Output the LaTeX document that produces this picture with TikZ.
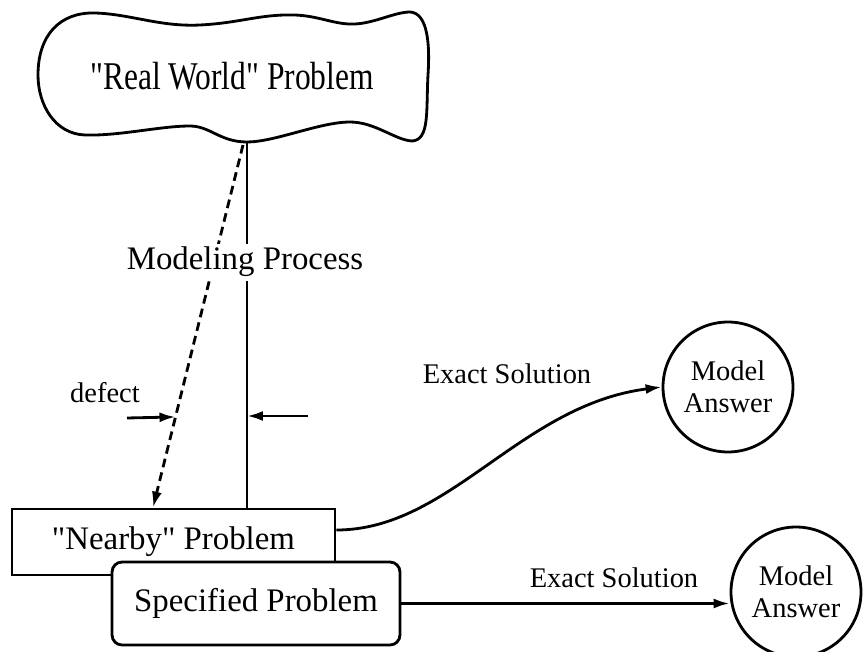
\documentclass[tikz,border=0pt]{standalone}
\usepackage{fontspec}
\setmainfont{Liberation Serif}
\usepackage{graphicx}
\usetikzlibrary{arrows.meta,calc}
\newcommand{\bigtxt}{\fontsize{18.7}{22}\selectfont}
\newcommand{\smalltxt}{\fontsize{16.2}{18.2}\selectfont}
\newcommand{\qq}{\textquotedbl}

\begin{document}
\begin{tikzpicture}[
  x=0.02cm, y=-0.02cm,
  line width=1.6pt,
  box/.style={draw,fill=white,align=center,inner sep=0pt,font=\bigtxt},
  answer/.style={draw,circle,fill=white,align=center,inner sep=0pt,
                 minimum size=2.6cm,font=\smalltxt},
  lbl/.style={anchor=base,font=\smalltxt},
  arr/.style={-{Latex[length=3.2mm,width=2mm]}}
]
\useasboundingbox (0,0) rectangle (863,652);

% the cloud
\draw (38,75) .. controls (38,35) and (60,12) .. (95,13)
  .. controls (130,14) and (160,27) .. (200,25)
  .. controls (240,23) and (260,14) .. (295,15)
  .. controls (320,16) and (335,25) .. (355,24)
  .. controls (375,23) and (395,12) .. (410,12)
  .. controls (428,13) and (430,45) .. (428,75)
  .. controls (426,110) and (430,140) .. (412,141)
  .. controls (395,140) and (375,122) .. (350,122)
  .. controls (320,122) and (275,142) .. (247,142)
  .. controls (220,142) and (210,126) .. (190,126)
  .. controls (160,126) and (120,136) .. (85,135)
  .. controls (55,134) and (38,105) .. (38,75) -- cycle;
\node (real) at (232,76)
      {\fontsize{17.9}{20}\selectfont\scalebox{1}[1.25]{\qq Real World\qq{} Problem}};
\coordinate (realbot) at (247,142);
\coordinate (realdash) at (243,145);

\node[box,minimum width=6.46cm,minimum height=1.32cm] (nearby) at (173.5,542)
      {\qq Nearby\qq{} Problem};
\node[box,rounded corners=0.2cm,minimum width=5.76cm,minimum height=1.66cm]
      (spec) at (256,603.5) {Specified Problem};
\node[answer] (ans1) at (728,387) {Model\\Answer};
\node[answer] (ans2) at (796,592) {Model\\Answer};

\coordinate (nearbyin) at ([xshift=-0.41cm]nearby.north);
\draw (realbot) -- (realbot |- nearby.north);
\draw[arr,dash pattern=on 5pt off 3pt] (realdash) -- (nearbyin);

\coordinate (defl) at (127,418);
\coordinate (defr) at (308,416);
\draw[arr] (defl) -- ($(realdash)!0.75!(nearbyin)$);
\draw[arr] (defr) -- (defr -| realbot);
\node[lbl] (defect) at (105,402) {defect};

\node[anchor=base,fill=white,inner sep=2pt,font=\bigtxt] (modeling) at (245,270)
      {Modeling Process};

\draw[arr] ([yshift=0.24cm]nearby.east) .. controls (450,530) and (520,405) .. (ans1.west);
\node[lbl] (exact1) at (507,383) {Exact Solution};

\draw[arr] (spec.east) -- (spec.east -| ans2.west);
\node[lbl] (exact2) at (614,587) {Exact Solution};
\end{tikzpicture}
\end{document}
